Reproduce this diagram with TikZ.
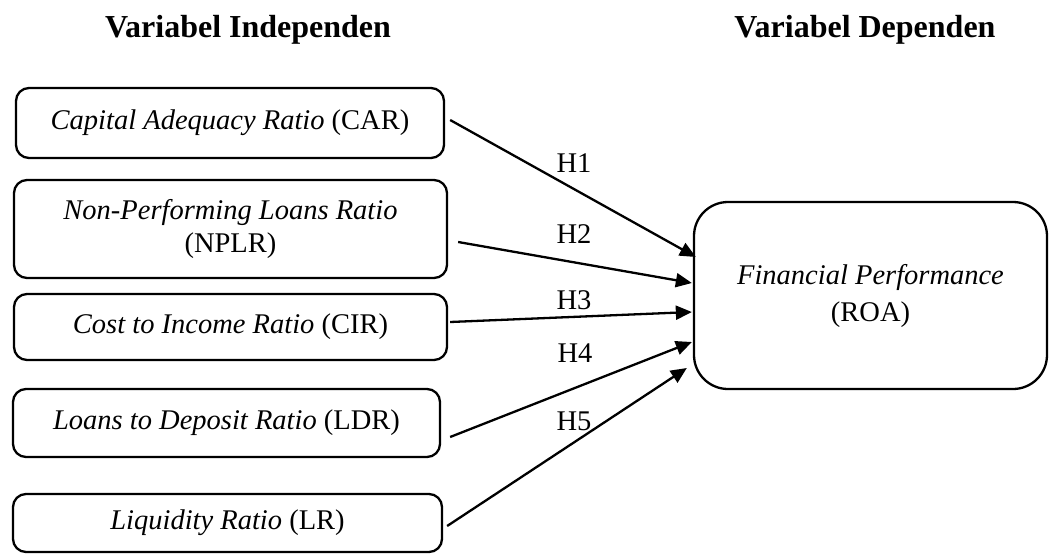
\documentclass[tikz,border=0pt]{standalone}
\usepackage{fontspec}
\setmainfont{Liberation Serif}
\usetikzlibrary{arrows.meta}
\newcommand\myBodyFont{\fontsize{28.5pt}{33pt}\selectfont}
\newcommand\myHeadFont{\fontsize{32pt}{36pt}\selectfont\bfseries}
\begin{document}
\begin{tikzpicture}[x=1pt,y=-1pt,
  box/.style={draw, line width=2.3pt, rounded corners=13pt, inner sep=0pt, align=center, font=\myBodyFont},
  bigbox/.style={box, rounded corners=34pt},
  arr/.style={line width=2.3pt, -{Triangle[length=16pt,width=14pt]}},
  hlab/.style={font=\myBodyFont, inner sep=0pt},
  head/.style={font=\myHeadFont, inner sep=0pt, anchor=base}]
\useasboundingbox (0,0) rectangle (1050,555);

\node[head] (hi) at (248,37) {Variabel Independen};
\node[head] (hd) at (865,37) {Variabel Dependen};

\node[box, minimum width=428pt, minimum height=70pt] (car) at (230,123) {\textit{Capital Adequacy Ratio} (CAR)};
\node[box, minimum width=433pt, minimum height=98pt] (nplr) at (230.5,229) {\textit{Non-Performing Loans Ratio}\\(NPLR)};
\node[box, minimum width=433pt, minimum height=66pt] (cir) at (230.5,327) {\textit{Cost to Income Ratio} (CIR)};
\node[box, minimum width=427pt, minimum height=68pt] (ldr) at (226.5,423) {\textit{Loans to Deposit Ratio} (LDR)};
\node[box, minimum width=429pt, minimum height=58pt] (lr) at (227.5,523) {\textit{Liquidity Ratio} (LR)};

\node[bigbox, minimum width=353pt, minimum height=187pt] (roa) at (870.5,295.5) {\textit{Financial Performance}\\[4pt](ROA)};

\draw[arr] ([xshift=5pt,yshift=3pt]car.east) -- ([xshift=3pt,yshift=38.5pt]roa.west);
\draw[arr] ([xshift=10pt,yshift=-13pt]nplr.east) -- ([xshift=-1pt,yshift=12.5pt]roa.west);
\draw[arr] ([xshift=2pt,yshift=5pt]cir.east) -- ([xshift=-1pt,yshift=-16.5pt]roa.west);
\draw[arr] ([xshift=9pt,yshift=-14pt]ldr.east) -- ([xshift=-1pt,yshift=-46.5pt]roa.west);
\draw[arr] ([xshift=4pt,yshift=-3pt]lr.east) -- ([xshift=-6pt,yshift=-72.5pt]roa.west);

\node[hlab] (h1) at (574,163) {H1};
\node[hlab] (h2) at (574,234) {H2};
\node[hlab] (h3) at (574,300) {H3};
\node[hlab] (h4) at (575,353) {H4};
\node[hlab] (h5) at (574,421) {H5};
\end{tikzpicture}
\end{document}
